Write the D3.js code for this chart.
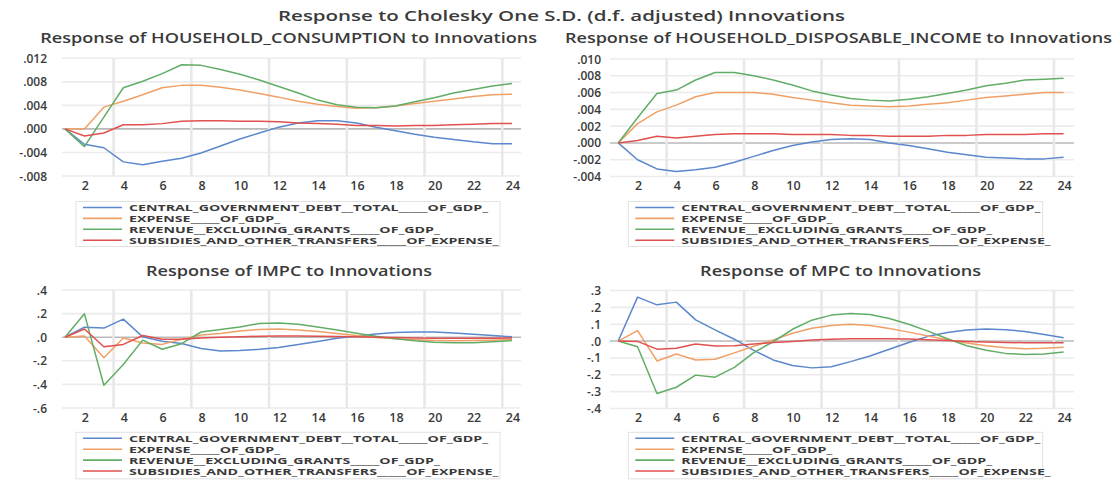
<!DOCTYPE html>
<html><head><meta charset="utf-8">
<script src="https://cdn.jsdelivr.net/npm/d3@7"></script>
<style>body{margin:0;background:#fff}svg{display:block}</style>
</head><body><svg id="chart" width="1120" height="480"></svg>
<script>
// ---------- DATA ----------
const periods = [1,2,3,4,5,6,7,8,9,10,11,12,13,14,15,16,17,18,19,20,21,22,23,24];
const xTickValues = [2,4,6,8,10,12,14,16,18,20,22,24];
const xTickLabels = ["2","4","6","8","10","12","14","16","18","20","22","24"];
const seriesNames = [
  "CENTRAL_GOVERNMENT_DEBT__TOTAL_____OF_GDP_",
  "EXPENSE_____OF_GDP_",
  "REVENUE__EXCLUDING_GRANTS_____OF_GDP_",
  "SUBSIDIES_AND_OTHER_TRANSFERS_____OF_EXPENSE_"
];
const seriesColors = ["#5b87cd", "#f0a066", "#62ad66", "#e0504e"];
const mainTitle = "Response to Cholesky One S.D. (d.f. adjusted) Innovations";
const panelTitles = [
  "Response of HOUSEHOLD_CONSUMPTION to Innovations",
  "Response of HOUSEHOLD_DISPOSABLE_INCOME to Innovations",
  "Response of IMPC to Innovations",
  "Response of MPC to Innovations"
];

// Panel 1: HOUSEHOLD_CONSUMPTION
const consTicks = [-0.008,-0.004,0,0.004,0.008,0.012];
const consTickLabels = ["-.008","-.004",".000",".004",".008",".012"];
const consDebt = [0,-0.0026,-0.0032,-0.0056,-0.0061,-0.0055,-0.0050,-0.0041,-0.0029,-0.0017,-0.0007,0.0003,0.0010,0.0014,0.0014,0.0010,0.0003,-0.0003,-0.0009,-0.0014,-0.0018,-0.0022,-0.0025,-0.0025];
const consExpense = [0,0,0.0037,0.0047,0.0058,0.0070,0.0074,0.0074,0.0071,0.0066,0.0060,0.0054,0.0047,0.0042,0.0038,0.0035,0.0036,0.0039,0.0043,0.0047,0.0051,0.0055,0.0058,0.0059];
const consRevenue = [0,-0.0030,0.0020,0.0070,0.0081,0.0094,0.0109,0.0108,0.0101,0.0093,0.0083,0.0072,0.0061,0.0049,0.0041,0.0037,0.0036,0.0039,0.0046,0.0053,0.0061,0.0067,0.0073,0.0077];
const consSubsidies = [0,-0.0012,-0.0007,0.0007,0.0007,0.0009,0.0013,0.0014,0.0014,0.0013,0.0013,0.0012,0.0010,0.0009,0.0008,0.0006,0.0006,0.0005,0.0006,0.0006,0.0007,0.0008,0.0009,0.0009];

// Panel 2: HOUSEHOLD_DISPOSABLE_INCOME
const incTicks = [-0.004,-0.002,0,0.002,0.004,0.006,0.008,0.010];
const incTickLabels = ["-.004","-.002",".000",".002",".004",".006",".008",".010"];
const incDebt = [0,-0.0020,-0.0031,-0.0034,-0.0032,-0.0029,-0.0023,-0.0016,-0.0009,-0.0003,0.0001,0.0004,0.0005,0.0004,0.0000,-0.0003,-0.0007,-0.0011,-0.0014,-0.0017,-0.0018,-0.0019,-0.0019,-0.0017];
const incExpense = [0,0.0023,0.0037,0.0045,0.0055,0.0060,0.0060,0.0060,0.0058,0.0054,0.0051,0.0048,0.0045,0.0044,0.0043,0.0044,0.0046,0.0048,0.0051,0.0054,0.0056,0.0058,0.0060,0.0060];
const incRevenue = [0,0.0030,0.0059,0.0063,0.0075,0.0084,0.0084,0.0080,0.0075,0.0069,0.0062,0.0057,0.0053,0.0051,0.0050,0.0052,0.0055,0.0059,0.0063,0.0068,0.0071,0.0075,0.0076,0.0077];
const incSubsidies = [0,0.0003,0.0008,0.0006,0.0008,0.0010,0.0011,0.0011,0.0011,0.0010,0.0010,0.0010,0.0009,0.0009,0.0008,0.0008,0.0008,0.0009,0.0009,0.0010,0.0010,0.0010,0.0011,0.0011];

// Panel 3: IMPC
const impcTicks = [-0.6,-0.4,-0.2,0,0.2,0.4];
const impcTickLabels = ["-.6","-.4","-.2",".0",".2",".4"];
const impcDebt = [0,0.085,0.077,0.153,0.003,-0.035,-0.053,-0.095,-0.116,-0.113,-0.103,-0.087,-0.062,-0.036,-0.008,0.011,0.028,0.039,0.045,0.045,0.036,0.025,0.014,0.003];
const impcExpense = [0,0.011,-0.174,-0.007,-0.050,-0.061,-0.017,0.018,0.032,0.053,0.066,0.070,0.062,0.048,0.031,0.014,-0.003,-0.014,-0.022,-0.028,-0.031,-0.028,-0.025,-0.020];
const impcRevenue = [0,0.198,-0.407,-0.232,-0.025,-0.102,-0.055,0.044,0.065,0.086,0.117,0.120,0.109,0.087,0.062,0.034,0.008,-0.014,-0.031,-0.042,-0.048,-0.048,-0.039,-0.028];
const impcSubsidies = [0,0.070,-0.081,-0.061,0.014,-0.017,-0.018,-0.006,0,0.003,0.008,0.011,0.011,0.008,0.006,0.003,0,-0.003,-0.006,-0.008,-0.008,-0.008,-0.008,-0.006];

// Panel 4: MPC
const mpcTicks = [-0.4,-0.3,-0.2,-0.1,0,0.1,0.2,0.3];
const mpcTickLabels = ["-.4","-.3","-.2","-.1",".0",".1",".2",".3"];
const mpcDebt = [0,0.261,0.215,0.231,0.126,0.066,0.011,-0.055,-0.112,-0.145,-0.159,-0.152,-0.122,-0.089,-0.049,-0.008,0.028,0.051,0.065,0.071,0.067,0.057,0.039,0.020];
const mpcExpense = [0,0.062,-0.118,-0.077,-0.112,-0.108,-0.070,-0.031,0.007,0.046,0.076,0.093,0.100,0.093,0.075,0.053,0.030,0.008,-0.012,-0.028,-0.039,-0.045,-0.043,-0.037];
const mpcRevenue = [0,-0.034,-0.311,-0.274,-0.202,-0.214,-0.156,-0.068,-0.004,0.070,0.124,0.154,0.164,0.158,0.134,0.100,0.059,0.014,-0.028,-0.055,-0.073,-0.079,-0.077,-0.065];
const mpcSubsidies = [0,-0.002,-0.048,-0.042,-0.018,-0.029,-0.028,-0.018,-0.009,-0.002,0.006,0.011,0.014,0.014,0.014,0.012,0.008,0.004,-0.002,-0.006,-0.008,-0.010,-0.010,-0.010];

const verticalGridAt = [3.5,7.5,11.5,15.5,19.5,23.5];

// ---------- LAYOUT ----------
const FONT = "'Open Sans', 'DejaVu Sans', sans-serif";
const TXT = "#3a3a3a";
const panels = [
  {title: panelTitles[0], tx: 288.7, ty: 38, tw: 497, ticks: consTicks, tickLabels: consTickLabels,
   series: [consDebt, consExpense, consRevenue, consSubsidies],
   x0: 65, x1: 512, gL: 62, gR: 521, yTop: 58.3, yBot: 176, labR: 47, xlabY: 185,
   legend: {x: 76, y: 201.5, w: 424, h: 45}},
  {title: panelTitles[1], tx: 838.5, ty: 38, tw: 547, ticks: incTicks, tickLabels: incTickLabels,
   series: [incDebt, incExpense, incRevenue, incSubsidies],
   x0: 618.2, x1: 1063.6, gL: 610, gR: 1074, yTop: 59, yBot: 176.5, labR: 601, xlabY: 185,
   legend: {x: 628.3, y: 201.5, w: 414.4, h: 45}},
  {title: panelTitles[2], tx: 289, ty: 271, tw: 286, ticks: impcTicks, tickLabels: impcTickLabels,
   series: [impcDebt, impcExpense, impcRevenue, impcSubsidies],
   x0: 65, x1: 512, gL: 62, gR: 521, yTop: 290, yBot: 408, labR: 47, xlabY: 417,
   legend: {x: 76, y: 432.3, w: 424, h: 46.5}},
  {title: panelTitles[3], tx: 840.6, ty: 271, tw: 281, ticks: mpcTicks, tickLabels: mpcTickLabels,
   series: [mpcDebt, mpcExpense, mpcRevenue, mpcSubsidies],
   x0: 618.2, x1: 1063.6, gL: 610, gR: 1074, yTop: 290.5, yBot: 408.5, labR: 601, xlabY: 417,
   legend: {x: 628.3, y: 432.3, w: 414.4, h: 46.5}}
];

const svg = d3.select("#chart");
svg.append("rect").attr("width",1120).attr("height",480).attr("fill","#fff");

function fitText(sel, width) {
  sel.attr("textLength", width).attr("lengthAdjust", "spacingAndGlyphs");
}

// main title
svg.append("text").attr("x", 561.5).attr("y", 15).attr("text-anchor","middle")
  .attr("dominant-baseline","central").attr("font-family",FONT).attr("font-weight",600)
  .attr("font-size",14.5).attr("fill",TXT).text(mainTitle).call(fitText, 567);

panels.forEach(p => {
  const g = svg.append("g");
  const x = d3.scaleLinear().domain([1,24]).range([p.x0, p.x1]);
  const y = d3.scaleLinear().domain([p.ticks[0], p.ticks[p.ticks.length-1]]).range([p.yBot, p.yTop]);

  // title
  g.append("text").attr("x", p.tx).attr("y", p.ty).attr("text-anchor","middle")
    .attr("dominant-baseline","central").attr("font-family",FONT).attr("font-weight",600)
    .attr("font-size",13.5).attr("fill",TXT).text(p.title).call(fitText, p.tw);

  // horizontal gridlines
  g.selectAll(".hg").data(p.ticks).join("line")
    .attr("x1", p.gL).attr("x2", p.gR)
    .attr("y1", d => y(d)).attr("y2", d => y(d))
    .attr("stroke", d => d === 0 ? "#b9b9b9" : "#ebebeb")
    .attr("stroke-width", 1.6);

  // vertical gridlines
  g.selectAll(".vg").data(verticalGridAt).join("line")
    .attr("x1", d => x(d)).attr("x2", d => x(d))
    .attr("y1", p.yTop).attr("y2", p.yBot)
    .attr("stroke", "#e8e8e8").attr("stroke-width", 2.6);

  // y tick labels
  g.selectAll(".yl").data(p.ticks).join("text")
    .attr("x", p.labR).attr("y", d => y(d)).attr("text-anchor","end")
    .attr("dominant-baseline","central").attr("font-family",FONT).attr("font-weight",600)
    .attr("font-size",12).attr("fill",TXT)
    .text((d,i) => p.tickLabels[i]);

  // x tick labels
  g.selectAll(".xl").data(xTickValues).join("text")
    .attr("x", d => x(d) + 1).attr("y", p.xlabY).attr("text-anchor","middle")
    .attr("dominant-baseline","central").attr("font-family",FONT).attr("font-weight",600)
    .attr("font-size",12.5).attr("fill",TXT)
    .text((d,i) => xTickLabels[i]);

  // series lines
  const line = d3.line().x((d,i) => x(periods[i])).y(d => y(d));
  p.series.forEach((s, k) => {
    g.append("path").attr("d", line(s)).attr("fill","none")
      .attr("stroke", seriesColors[k]).attr("stroke-width", 1.5)
      .attr("stroke-linejoin","round");
  });

  // legend
  const L = p.legend;
  g.append("rect").attr("x", L.x).attr("y", L.y).attr("width", L.w).attr("height", L.h)
    .attr("fill","#fff").attr("stroke","#e2e2e2").attr("stroke-width",1);
  const rows = g.selectAll(".lg").data(seriesNames).join("g")
    .attr("transform", (d,i) => `translate(${L.x},${L.y + 6 + i*10.9})`);
  rows.append("line").attr("x1", 7).attr("x2", 46).attr("y1",0).attr("y2",0)
    .attr("stroke", (d,i) => seriesColors[i]).attr("stroke-width", 1.6);
  const texts = rows.append("text").attr("x", 53).attr("y", 0)
    .attr("dominant-baseline","central").attr("font-family",FONT).attr("font-weight",700)
    .attr("font-size",8).attr("fill",TXT).text(d => d);
  // scale all legend texts with the same factor so row 1 is 359px wide
  const nodes = texts.nodes();
  const base = nodes[0].getComputedTextLength();
  const f = 359 / base;
  nodes.forEach(n => {
    const w = n.getComputedTextLength();
    d3.select(n).attr("textLength", w * f).attr("lengthAdjust","spacingAndGlyphs");
  });
});
</script>
</body></html>
